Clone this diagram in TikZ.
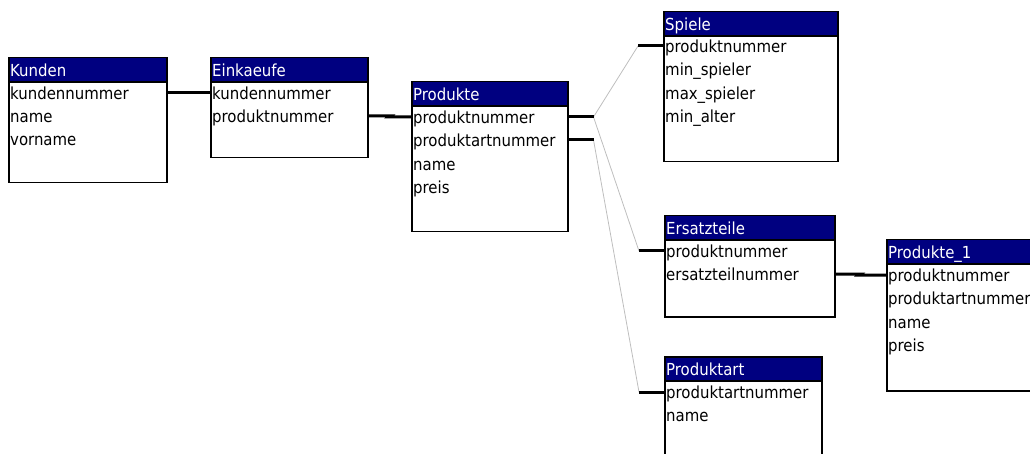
\documentclass[tikz,border=0pt]{standalone}
\usepackage{fontspec}
\setmainfont{DejaVu Sans Condensed}
\usepackage{tikz}

\definecolor{titelblau}{RGB}{0,0,128}
\definecolor{linkgrau}{RGB}{190,190,190}

\begin{document}
\begin{tikzpicture}[x=1pt, y=-1pt,
    every node/.style={font=\fontsize{16.6pt}{21pt}\selectfont},
    tabelle/.style={draw, line width=1.5pt, anchor=north west, inner sep=0pt},
    titel/.style={fill=titelblau, text=white, anchor=north west, minimum height=25, inner xsep=2pt, inner ysep=0pt, text height=13pt, text depth=0pt, align=left},
    feld/.style={anchor=west, inner sep=0pt, text height=13pt, text depth=0pt},
    stummel/.style={line width=3pt},
    verbindung/.style={draw=linkgrau, line width=0.8pt}]
    \clip (0,0) rectangle (1030,454);

    % Kunden
    \node[titel, text width=154] (kunden-t) at (8,57) {Kunden};
    \node[tabelle, minimum width=158, minimum height=125] (kunden) at (8,57) {};
    \draw[line width=2pt] (kunden-t.south west) -- (kunden-t.south east);
    \node[feld] (kunden-1) at (10,93) {kundennummer};
    \node[feld] (kunden-2) at (10,116) {name};
    \node[feld] (kunden-3) at (10,139) {vorname};

    % Einkaeufe
    \node[titel, text width=153] (eink-t) at (210,57) {Einkaeufe};
    \node[tabelle, minimum width=157, minimum height=100] (eink) at (210,57) {};
    \draw[line width=2pt] (eink-t.south west) -- (eink-t.south east);
    \node[feld] (eink-1) at (212,93) {kundennummer};
    \node[feld] (eink-2) at (212,116) {produktnummer};

    % Produkte
    \node[titel, text width=152] (prod-t) at (411,81) {Produkte};
    \node[tabelle, minimum width=156, minimum height=150] (prod) at (411,81) {};
    \draw[line width=2pt] (prod-t.south west) -- (prod-t.south east);
    \node[feld] (prod-1) at (413,117) {produktnummer};
    \node[feld] (prod-2) at (413,140) {produktartnummer};
    \node[feld] (prod-3) at (413,164) {name};
    \node[feld] (prod-4) at (413,187) {preis};

    % Spiele
    \node[titel, text width=170] (spiele-t) at (663,11) {Spiele};
    \node[tabelle, minimum width=174, minimum height=150] (spiele) at (663,11) {};
    \draw[line width=2pt] (spiele-t.south west) -- (spiele-t.south east);
    \node[feld] (spiele-1) at (665,46) {produktnummer};
    \node[feld] (spiele-2) at (665,69) {min\_spieler};
    \node[feld] (spiele-3) at (665,93) {max\_spieler};
    \node[feld] (spiele-4) at (665,116) {min\_alter};

    % Ersatzteile
    \node[titel, text width=166] (ersatz-t) at (664,215) {Ersatzteile};
    \node[tabelle, minimum width=170, minimum height=101] (ersatz) at (664,215) {};
    \draw[line width=2pt] (ersatz-t.south west) -- (ersatz-t.south east);
    \node[feld] (ersatz-1) at (666,251) {produktnummer};
    \node[feld] (ersatz-2) at (666,274) {ersatzteilnummer};

    % Produkte_1
    \node[titel, text width=152] (prod1-t) at (886,239) {Produkte\_1};
    \node[tabelle, minimum width=156, minimum height=151] (prod1) at (886,239) {};
    \draw[line width=2pt] (prod1-t.south west) -- (prod1-t.south east);
    \node[feld] (prod1-1) at (888,275) {produktnummer};
    \node[feld] (prod1-2) at (888,298) {produktartnummer};
    \node[feld] (prod1-3) at (888,322) {name};
    \node[feld] (prod1-4) at (888,345) {preis};

    % Produktart
    \node[titel, text width=153] (art-t) at (664,356) {Produktart};
    \node[tabelle, minimum width=157, minimum height=125] (art) at (664,356) {};
    \draw[line width=2pt] (art-t.south west) -- (art-t.south east);
    \node[feld] (art-1) at (666,392) {produktartnummer};
    \node[feld] (art-2) at (666,415) {name};

    % Beziehungen
    \coordinate (k1) at ([xshift=22pt] kunden.east |- kunden-1);
    \coordinate (k2) at ([xshift=-22pt] eink.west |- eink-1);
    \coordinate (e1) at ([xshift=22pt] eink.east |- eink-2);
    \coordinate (e2) at ([xshift=-22pt] prod.west |- prod-1);
    \coordinate (p1) at ([xshift=25pt] prod.east |- prod-1);
    \coordinate (p2) at ([xshift=25pt] prod.east |- prod-2);
    \coordinate (s1) at ([xshift=-25pt] spiele.west |- spiele-1);
    \coordinate (t1) at ([xshift=-25pt] ersatz.west |- ersatz-1);
    \coordinate (a1) at ([xshift=-25pt] art.west |- art-1);
    \coordinate (t2) at ([xshift=25pt] ersatz.east |- ersatz-2);
    \coordinate (q1) at ([xshift=-27pt] prod1.west |- prod1-1);

    \draw[verbindung] (p1) -- (s1);
    \draw[verbindung] (p1) -- (t1);
    \draw[verbindung] (p2) -- (a1);

    \draw[stummel] (kunden.east |- kunden-1) -- (k1) -- (k2) -- (eink.west |- eink-1);
    \draw[stummel] (eink.east |- eink-2) -- (e1) -- (e2) -- (prod.west |- prod-1);
    \draw[stummel] (prod.east |- prod-1) -- (p1);
    \draw[stummel] (prod.east |- prod-2) -- (p2);
    \draw[stummel] (spiele.west |- spiele-1) -- (s1);
    \draw[stummel] (ersatz.west |- ersatz-1) -- (t1);
    \draw[stummel] (art.west |- art-1) -- (a1);
    \draw[stummel] (ersatz.east |- ersatz-2) -- (t2) -- (q1) -- (prod1.west |- prod1-1);
\end{tikzpicture}
\end{document}
